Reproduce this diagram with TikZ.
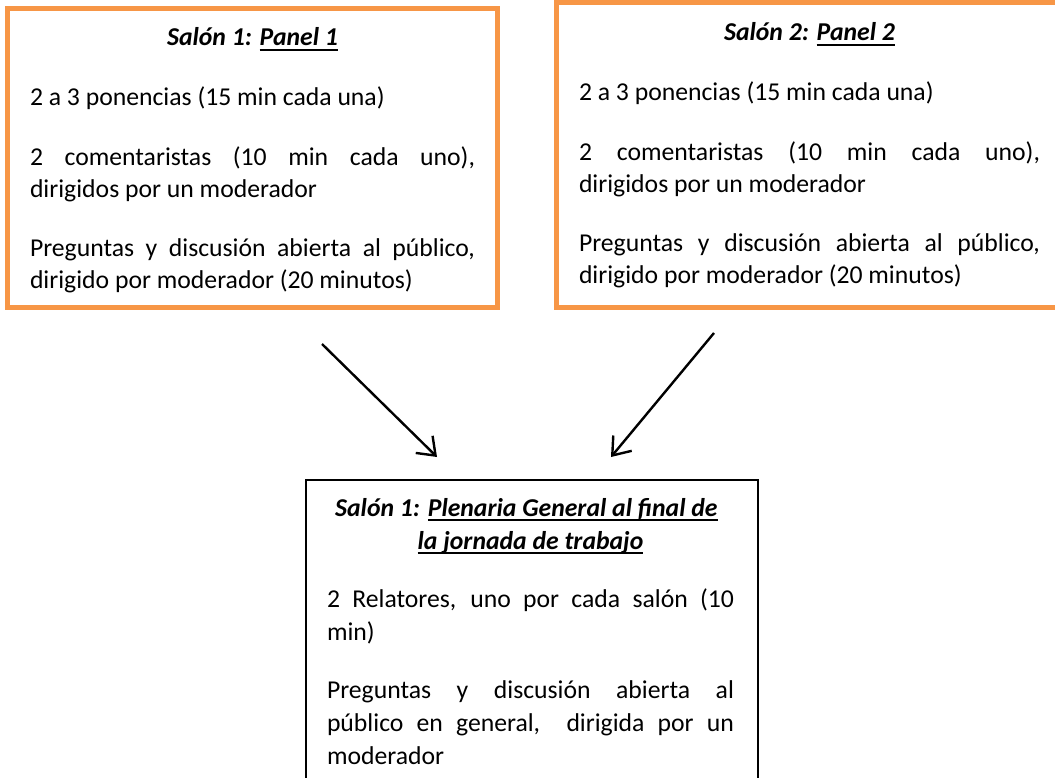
\documentclass[tikz,border=0pt]{standalone}
\usepackage{fontspec}
\setmainfont{Carlito}
\usetikzlibrary{arrows.meta}
\definecolor{boxorange}{HTML}{F79646}
\newsavebox{\ulinebox}
\newcommand{\myul}[1]{\sbox{\ulinebox}{#1}\rlap{\rule[-4.6pt]{\wd\ulinebox}{2pt}}\usebox{\ulinebox}}
\tikzset{
  obox/.style={draw=boxorange, line width=5pt, rectangle, outer sep=0pt, inner sep=0pt, anchor=north west},
  kbox/.style={draw=black, line width=1.3pt, rectangle, outer sep=0pt, inner sep=0pt, anchor=north west},
  txt/.style={inner sep=0pt, outer sep=0pt, anchor=base west, align=justify,
    font=\fontsize{25.7pt}{31.7pt}\selectfont},
  arr/.style={draw=black, line width=2.4pt, -{Straight Barb[length=16pt,width=24pt,line width=2.4pt]}}
}
\newcommand{\boxsetup}[1][28pt]{\setlength{\parskip}{#1}\hyphenpenalty=10000\exhyphenpenalty=10000\tolerance=10000\emergencystretch=20pt}
\newcommand{\ttl}[1]{{\centering\bfseries\itshape #1\par}}
\begin{document}
\begin{tikzpicture}[x=1pt,y=-1pt]
\useasboundingbox (0,0) rectangle (1055,778);
% boxes
\node[obox, minimum width=490pt, minimum height=299pt] (p1) at (7.5,8.5) {};
\node[obox, minimum width=520pt, minimum height=305pt] (p2) at (556.5,2.5) {};
\node[kbox, minimum width=452pt, minimum height=340pt] (pl) at (306,480) {};
% texts
\node[txt, text width=445pt] (t1) at (30,46) {\boxsetup
\ttl{Salón 1: \myul{Panel 1}}
2 a 3 ponencias (15 min cada una)

2 comentaristas (10 min cada uno),\linebreak dirigidos por un moderador

Preguntas y discusión abierta al público,\linebreak dirigido por moderador (20 minutos)};
\node[txt, text width=461pt] (t2) at (579,41) {\boxsetup
\ttl{Salón 2: \myul{Panel 2}}
2 a 3 ponencias (15 min cada una)

2 comentaristas (10 min cada uno),\linebreak dirigidos por un moderador

Preguntas y discusión abierta al público,\linebreak dirigido por moderador (20 minutos)};
\node[txt, text width=407pt, font=\fontsize{25.7pt}{33pt}\selectfont] (t3) at (327,516) {\boxsetup[25pt]
\ttl{Salón 1: \myul{Plenaria General al final de}\newline\myul{la jornada de trabajo}}
2 Relatores, uno por cada salón (10\linebreak min)

Preguntas y discusión abierta al\linebreak público en general,\ \ dirigida por un\linebreak moderador};
% arrows
\coordinate (a1s) at (322,344);
\coordinate (a1e) at (437,457);
\coordinate (a2s) at (714,333);
\coordinate (a2e) at (611,457);
\draw[arr] (a1s) -- (a1e);
\draw[arr] (a2s) -- (a2e);
\end{tikzpicture}
\end{document}
